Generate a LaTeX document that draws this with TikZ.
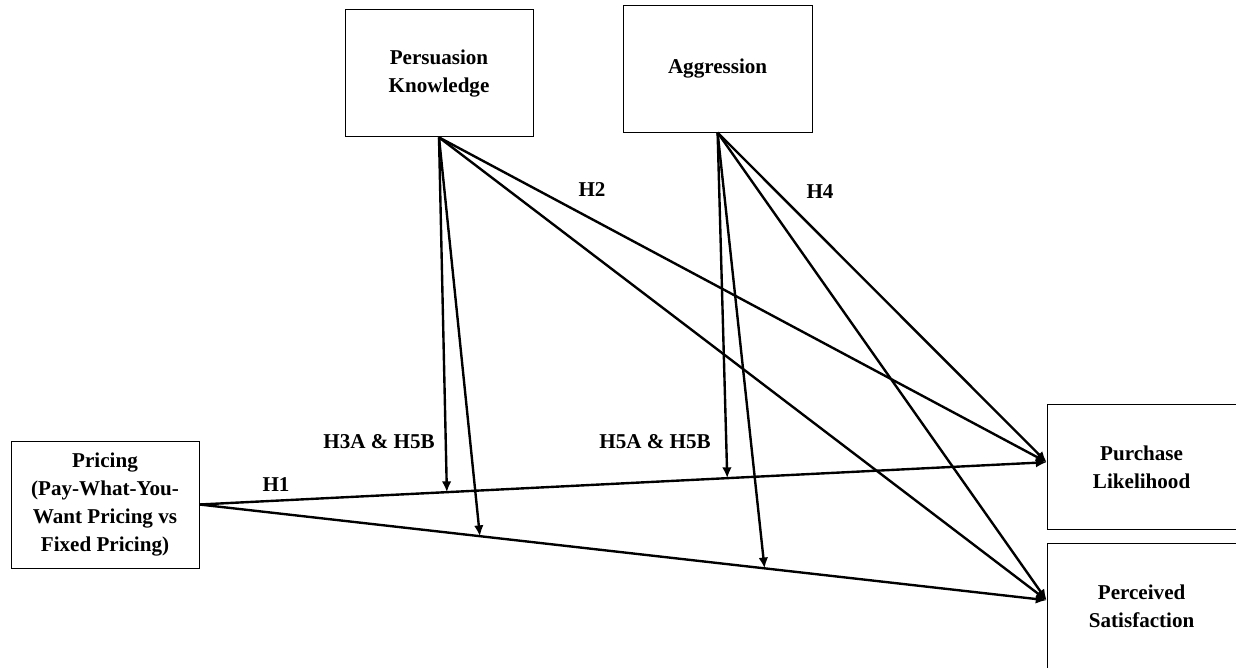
\documentclass[tikz,border=0pt]{standalone}
\usepackage{fontspec}
\setmainfont{Liberation Serif}
\usetikzlibrary{arrows.meta}

\tikzset{
  box/.style={draw,line width=0.7pt,minimum width=4.7cm,minimum height=3.175cm,align=center,font=\fontsize{15}{20}\selectfont\bfseries},
  hyp/.style={font=\fontsize{15}{20}\selectfont\bfseries},
  link/.style={line width=1.7pt,-{Latex[length=0.27cm,width=0.24cm]}}
}

\begin{document}
\begin{tikzpicture}
  \useasboundingbox (0,0) rectangle (30.9,16.675);
  \node[box] (pricing) at (2.625,4.0625) {Pricing\\(Pay-What-You-\\Want Pricing vs\\Fixed Pricing)};
  \node[box] (pk) at (10.975,14.84) {Persuasion\\Knowledge};
  \node[box,minimum width=4.725cm] (aggr) at (17.94,14.96) {Aggression};
  \node[box,minimum width=4.725cm,minimum height=3.125cm] (pl) at (28.54,4.99) {Purchase\\Likelihood};
  \node[box,minimum width=4.725cm] (ps) at (28.54,1.51) {Perceived\\Satisfaction};

  % pricing to outcomes
  \draw[link] (pricing.east) -- coordinate[pos=0.292] (pkmid1) coordinate[pos=0.623] (agmid1) ([yshift=0.13cm]pl.west);
  \draw[link] (pricing.east) -- coordinate[pos=0.331] (pkmid2) coordinate[pos=0.667] (agmid2) ([yshift=0.16cm]ps.west);

  % moderators
  \draw[link] (pk.south) -- (pkmid1);
  \draw[link] (pk.south) -- (pkmid2);
  \draw[link] (aggr.south) -- (agmid1);
  \draw[link] (aggr.south) -- (agmid2);

  % direct effects
  \draw[link] (pk.south) -- ([yshift=0.13cm]pl.west);
  \draw[link] (pk.south) -- ([yshift=0.16cm]ps.west);
  \draw[link] (aggr.south) -- ([yshift=0.13cm]pl.west);
  \draw[link] (aggr.south) -- ([yshift=0.16cm]ps.west);

  \node[hyp] (h1) at (6.9,4.55) {H1};
  \node[hyp] (h2) at (14.8,11.925) {H2};
  \node[hyp] (h4) at (20.5,11.875) {H4};
  \node[hyp] (h3a) at (9.475,5.625) {H3A \& H5B};
  \node[hyp] (h5a) at (16.375,5.625) {H5A \& H5B};
\end{tikzpicture}
\end{document}
